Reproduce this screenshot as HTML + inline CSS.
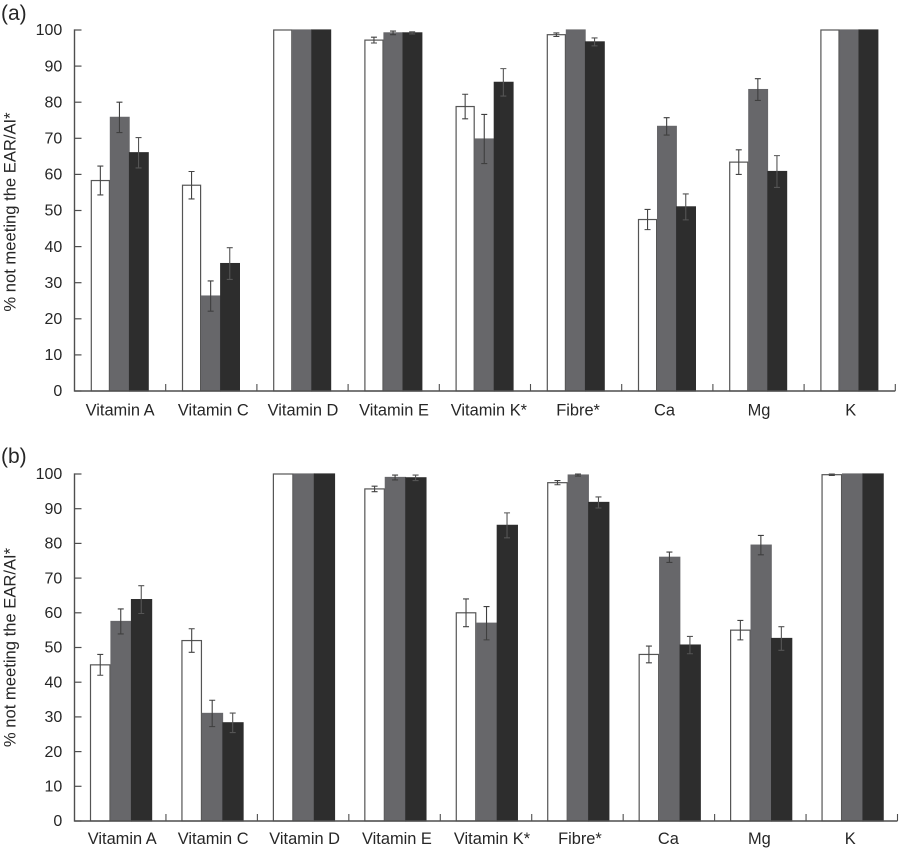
<!DOCTYPE html>
<html><head><meta charset="utf-8"><title>Percent not meeting the EAR/AI</title>
<style>
html,body{margin:0;padding:0;background:#fff;width:901px;height:848px;overflow:hidden}
svg{display:block;font-family:"Liberation Sans",sans-serif;filter:blur(0.35px)}
text{fill:#262626}
</style></head>
<body>
<svg id="chart" xmlns="http://www.w3.org/2000/svg" width="901" height="848" viewBox="0 0 901 848"></svg>
<script>
const categories = ["Vitamin A","Vitamin C","Vitamin D","Vitamin E","Vitamin K*","Fibre*","Ca","Mg","K"];
const yTicks = [0,10,20,30,40,50,60,70,80,90,100];
const seriesAWhite = [58.3,57,100,97.2,78.8,98.7,47.5,63.4,100];
const seriesAGray = [75.8,26.3,100,99.2,69.8,100,73.3,83.5,100];
const seriesABlack = [66,35.3,100,99.2,85.5,96.7,51,60.8,100];
const errorAWhite = [4,3.8,0,0.8,3.4,0.5,2.8,3.4,0];
const errorAGray = [4.2,4.2,0,0.5,6.8,0,2.4,3,0];
const errorABlack = [4.2,4.4,0,0.3,3.8,1.1,3.6,4.4,0];
const seriesBWhite = [45,52,100,95.7,60,97.5,48,55,99.8];
const seriesBGray = [57.5,31,100,99,57,99.7,76,79.5,100];
const seriesBBlack = [63.8,28.3,100,98.9,85.2,91.8,50.7,52.6,100];
const errorBWhite = [3,3.4,0,0.8,4,0.6,2.4,2.8,0.2];
const errorBGray = [3.6,3.8,0,0.7,4.8,0.3,1.5,2.8,0];
const errorBBlack = [4,2.8,0,0.8,3.6,1.6,2.5,3.4,0];

const svg = document.getElementById('chart');
const NS = 'http://www.w3.org/2000/svg';
function mk(tag, attrs, parent, txt){
  const e = document.createElementNS(NS, tag);
  for (const k in attrs) e.setAttribute(k, attrs[k]);
  if (txt !== undefined) e.textContent = txt;
  parent.appendChild(e);
  return e;
}
const AXC = '#4e4e4e';
function panel(p){
  const g = mk('g', {}, svg);
  
  
  const y = v => p.y0 + (p.y100 - p.y0) * v / 100;
  const step = (p.xEnd - p.xStart) / categories.length;

  const lab = mk('text', {x: 1, y: p.labelY, 'font-size': 21}, g, '(' + p.id + ')');
  
  

  const title = mk('text', {transform: 'translate(15.5,' + p.titleCy + ') rotate(-90)', 'text-anchor': 'middle', 'font-size': 16.6}, g, '% not meeting the EAR/AI*');
  
  

  yTicks.forEach(t => {
    const tick = mk('line', {x1: p.xStart, x2: p.xStart + 7, y1: y(t), y2: y(t), stroke: AXC, 'stroke-width': 1.2}, g);
    
    
    const tl = mk('text', {x: 62.3, y: y(t) + 5.2, 'text-anchor': 'end', 'font-size': 16}, g, t);
    
    
  });

  const fills = ['#ffffff', '#67676a', '#2d2d2d'];
  const strokes = ['#555555', '#67676a', '#2d2d2d'];
  const errColors = ['#444444', '#3f3f3f', '#555555'];
  const names = ['white', 'gray', 'black'];
  categories.forEach((c, i) => {
    const gx = p.xStart + i * step;
    const bx0 = gx + p.offset;
    p.series.forEach((s, j) => {
      const x = bx0 + j * p.barW;
      const r = mk('rect', {x: x + 0.5, y: y(s[i]), width: p.barW - (j === 0 ? 1 : 0.4), height: p.y0 - y(s[i]), fill: fills[j], stroke: strokes[j], 'stroke-width': 1.2}, g);
      
      
    });
    p.errors.forEach((er, j) => {
      if (!er[i]) return;
      const cx = bx0 + j * p.barW + p.barW / 2;
      const v = p.series[j][i];
      const top = y(Math.min(100, v + er[i])), bot = y(v - er[i]);
      const eg = mk('path', {d: 'M' + cx + ' ' + top + 'V' + bot + 'M' + (cx - 3) + ' ' + top + 'H' + (cx + 3) + 'M' + (cx - 3) + ' ' + bot + 'H' + (cx + 3), fill: 'none', stroke: errColors[j], 'stroke-width': 1.1}, g);
      
      
    });
    const cl = mk('text', {x: gx + step / 2 + p.labelNudge[i], y: p.catY, 'text-anchor': 'middle', 'font-size': 16.4}, g, c);
    
    
    const xt = mk('line', {x1: gx + step, x2: gx + step, y1: p.y0, y2: p.y0 - 7, stroke: AXC, 'stroke-width': 1.1}, g);
    
    
  });

  const ya = mk('line', {x1: p.xStart, x2: p.xStart, y1: p.y100 - 0.6, y2: p.y0 + 0.6, stroke: AXC, 'stroke-width': 1.4}, g);
  
  
  const xa = mk('line', {x1: p.xStart, x2: p.xEnd, y1: p.y0, y2: p.y0, stroke: AXC, 'stroke-width': 1.4}, g);
  
  
}
panel({id: 'a', y0: 391, y100: 30, xStart: 74.5, xEnd: 895.3, offset: 16.3, barW: 19.1, labelY: 20, catY: 415.5, titleCy: 212,
  labelNudge: [0,2,0.5,0.3,4,2,-2.8,0.5,1], series: [seriesAWhite, seriesAGray, seriesABlack], errors: [errorAWhite, errorAGray, errorABlack]});
panel({id: 'b', y0: 821, y100: 474, xStart: 74.5, xEnd: 897.5, offset: 15.5, barW: 20.5, labelY: 463, catY: 844, titleCy: 647.5,
  labelNudge: [2,1.5,1.5,2.4,6,2.5,-0.5,-1,-1.5], series: [seriesBWhite, seriesBGray, seriesBBlack], errors: [errorBWhite, errorBGray, errorBBlack]});
</script>
</body></html>
